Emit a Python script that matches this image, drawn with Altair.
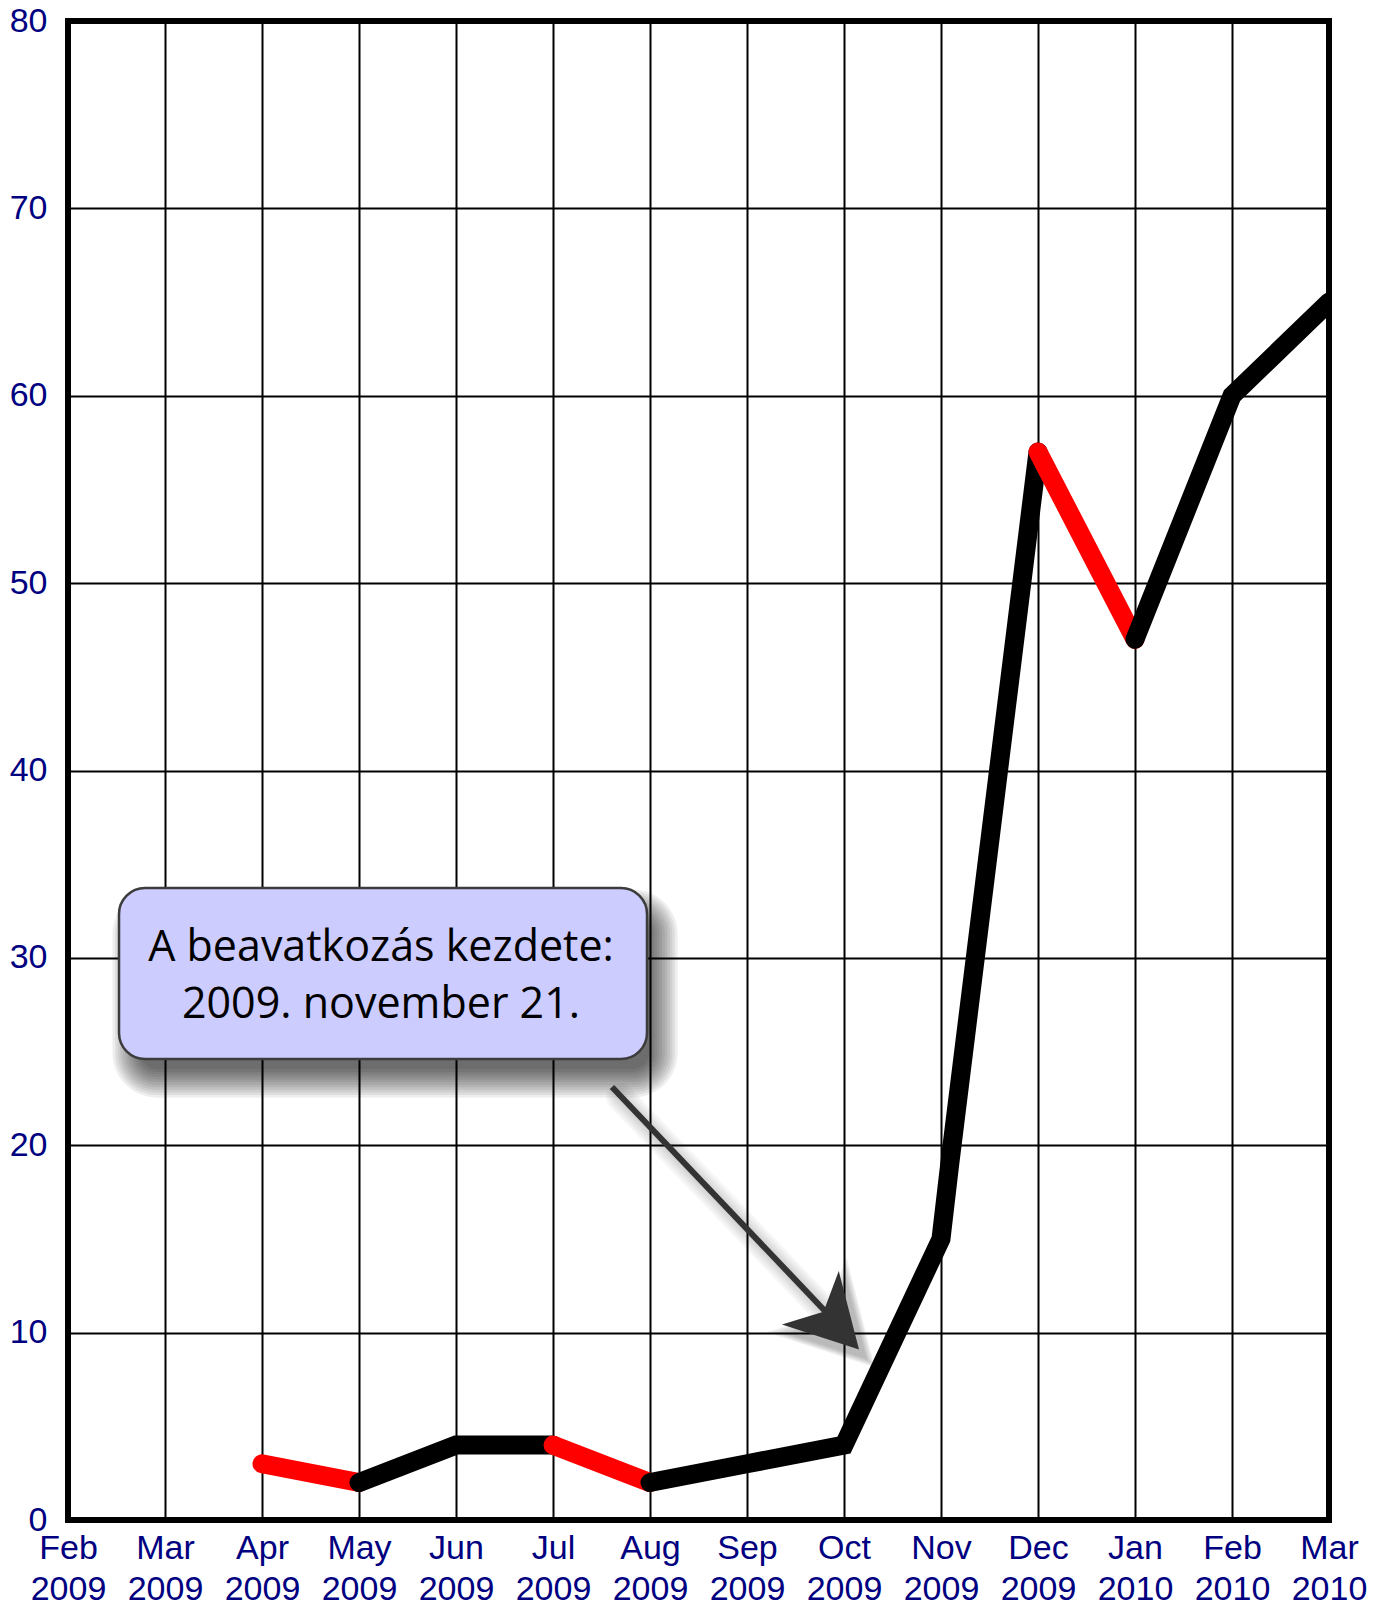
import altair as alt
import pandas as pd

# ---- data ----
month_names = ["Feb", "Mar", "Apr", "May", "Jun", "Jul", "Aug", "Sep", "Oct", "Nov", "Dec", "Jan", "Feb", "Mar"]
month_years = ["2009", "2009", "2009", "2009", "2009", "2009", "2009", "2009", "2009", "2009", "2009", "2010", "2010", "2010"]

# position on the month axis (0 = Feb 2009) and value
point_pos = [2, 3, 4, 5, 6, 7, 8, 9, 9.09, 10, 11, 12, 13]
point_val = [3, 2, 4, 4, 2, 3, 4, 15, 19, 57, 47, 60, 65]
# colour of each segment between consecutive points
segment_color = ["red", "black", "black", "red", "black", "black", "black",
                 "black", "black", "red", "black", "black"]

y_ticks = [0, 10, 20, 30, 40, 50, 60, 70, 80]

# annotation (in data units)
note_lines = ["A beavatkozás kezdete:", "2009. november 21."]
note_box = dict(x=0.526, x2=5.969, y=33.73, y2=24.60)
note_text = dict(x=3.227, y=29.85)
arrow = dict(x=5.608, y=23.11, x2=7.86, y2=10.85)
arrow_tip = dict(x=8.155, y=9.1)

# ---- build runs of same-coloured segments ----
runs = []
for i, c in enumerate(segment_color):
    if runs and runs[-1][0] == c:
        runs[-1][1].append(i + 1)
    else:
        runs.append((c, [i, i + 1]))

rows = []
for r, (c, idxs) in enumerate(runs):
    for k, j in enumerate(idxs):
        rows.append(dict(pos=point_pos[j], val=point_val[j], run=r, color=c, order=k))
line_df = pd.DataFrame(rows)

W, H = 1261, 1499
n_months = len(month_names) - 1

names_js = "[" + ",".join("'%s'" % m for m in month_names) + "]"
years_js = "[" + ",".join("'%s'" % y for y in month_years) + "]"
label_expr = "[%s[datum.value], %s[datum.value]]" % (names_js, years_js)

x_scale = alt.Scale(domain=[0, n_months], nice=False, zero=False)
y_scale = alt.Scale(domain=[0, 80], nice=False)

x_axis = alt.Axis(values=list(range(n_months + 1)), labelExpr=label_expr, title=None,
                  grid=True, gridColor="black", gridWidth=2, gridOpacity=1,
                  ticks=False, tickSize=0, domain=False, labelFlush=False, labelOverlap=False,
                  labelFont="Liberation Sans", labelFontSize=34, labelColor="#000080",
                  labelPadding=11, labelLineHeight=41)
y_axis = alt.Axis(values=y_ticks, title=None, grid=True, gridColor="black", gridWidth=2,
                  gridOpacity=1, ticks=False, tickSize=0, domain=False,
                  labelFont="Liberation Sans", labelFontSize=34, labelColor="#000080",
                  labelPadding=21, labelOverlap=False)

base_axes = alt.Chart(pd.DataFrame({"pos": [0], "val": [0]})).mark_point(opacity=0).encode(
    x=alt.X("pos:Q", scale=x_scale, axis=x_axis),
    y=alt.Y("val:Q", scale=y_scale, axis=y_axis),
)

lines = alt.Chart(line_df).mark_line(strokeWidth=19, strokeCap="round", strokeJoin="miter",
                                     clip=True).encode(
    x=alt.X("pos:Q", scale=x_scale),
    y=alt.Y("val:Q", scale=y_scale),
    detail="run:N",
    color=alt.Color("color:N", scale=None),
    order="order:Q",
)

# soft drop shadow of the note box (stacked translucent rounded rects)
box_df = pd.DataFrame([note_box])
shadows = []
for k in range(12):
    s = -10 + k * 2.6
    shadows.append(
        alt.Chart(box_df).mark_rect(
            fill="black", opacity=0.065, cornerRadius=max(4, 26 + s),
            xOffset=12 - s, x2Offset=12 + s, yOffset=20 - s, y2Offset=20 + s,
        ).encode(x="x:Q", x2="x2:Q", y="y:Q", y2="y2:Q")
    )

box = alt.Chart(box_df).mark_rect(fill="#ccccff", stroke="#3c3c3c", strokeWidth=2.5,
                                  cornerRadius=26).encode(
    x="x:Q", x2="x2:Q", y="y:Q", y2="y2:Q")

text = alt.Chart(pd.DataFrame([note_text])).mark_text(
    text=note_lines, font="Open Sans", fontSize=43, lineHeight=57, align="center",
    baseline="alphabetic", color="black").encode(x="x:Q", y="y:Q")

arrow_df = pd.DataFrame([arrow])
tip_df = pd.DataFrame([arrow_tip])
head_shape = "M0,0 L0.55,1 L0,0.73 L-0.55,1 Z"

# soft shadow for the arrow
arrow_shadows = []
for k in range(5):
    arrow_shadows.append(
        alt.Chart(arrow_df).mark_rule(strokeWidth=8 + k * 5, color="black", opacity=0.035,
                                      strokeCap="round", xOffset=8, yOffset=10).encode(
            x="x:Q", y="y:Q", x2="x2:Q", y2="y2:Q")
    )
    arrow_shadows.append(
        alt.Chart(tip_df).mark_point(
            shape=head_shape, size=20164 + k * 5000, angle=136.7, filled=True,
            fill="black", opacity=0.06, strokeWidth=0, xOffset=8 + k * 2, yOffset=10 + k * 2
        ).encode(x="x:Q", y="y:Q")
    )

shaft = alt.Chart(arrow_df).mark_rule(strokeWidth=6, color="#333333").encode(
    x="x:Q", y="y:Q", x2="x2:Q", y2="y2:Q")

head = alt.Chart(tip_df).mark_point(
    shape=head_shape, size=20164, angle=136.7, filled=True,
    fill="#333333", opacity=1, strokeWidth=0).encode(x="x:Q", y="y:Q")

chart = alt.layer(base_axes, lines, *shadows, box, text, *arrow_shadows, shaft, head).properties(
    width=W, height=H,
    autosize=alt.AutoSizeParams(type="none"),
    padding={"left": 60, "top": 13, "right": 40, "bottom": 80},
    background="white",
).configure_view(stroke="black", strokeWidth=6)

chart.save("out.html", embed_options={"renderer": "svg", "actions": False})
